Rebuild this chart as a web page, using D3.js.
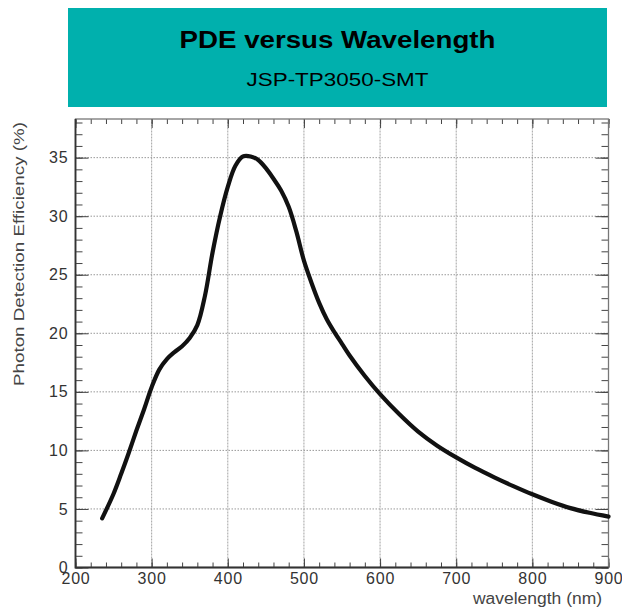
<!DOCTYPE html>
<html>
<head>
<meta charset="utf-8">
<title>PDE versus Wavelength</title>
<script src="https://cdn.jsdelivr.net/npm/d3@7"></script>
<style>
  body { margin: 0; background: #fff; }
  svg text { font-family: "Liberation Sans", Arial, sans-serif; }
  .tick line { stroke: #444; }
  .domain { display: none; }
</style>
</head>
<body>
<script>
// PDE curve (wavelength in nm, efficiency in %)
var wavelength = [235, 250, 260, 270, 280, 290, 300, 310, 320, 330, 340, 350, 360, 370, 380, 390,
                  400, 410, 420, 430, 440, 450, 460, 470, 480, 490, 500, 510, 520, 530, 540, 550,
                  560, 580, 600, 625, 650, 675, 700, 725, 750, 775, 800, 825, 850, 875, 900];
var pde = [4.2, 6.3, 8.0, 9.8, 11.7, 13.5, 15.4, 16.9, 17.8, 18.4, 18.9, 19.6, 20.7, 23.2, 26.9, 30.0,
           32.5, 34.3, 35.1, 35.1, 34.8, 34.1, 33.2, 32.2, 30.8, 28.7, 26.2, 24.3, 22.6, 21.2, 20.1, 19.1,
           18.1, 16.35, 14.8, 13.1, 11.6, 10.4, 9.4, 8.5, 7.7, 6.95, 6.25, 5.62, 5.07, 4.67, 4.35];
var xTicks = [200, 300, 400, 500, 600, 700, 800, 900];
var yTicks = [0, 5, 10, 15, 20, 25, 30, 35];
var titleText = "PDE versus Wavelength";
var subtitleText = "JSP-TP3050-SMT";
var xTitle = "wavelength (nm)";
var yTitle = "Photon Detection Efficiency (%)";

var W = 622, H = 610;
var pL = 75.5, pR = 608.5, pT = 119, pB = 567.5;

var svg = d3.select("body").append("svg")
    .attr("width", W).attr("height", H);

// header banner
svg.append("rect")
    .attr("x", 68).attr("y", 8).attr("width", 539).attr("height", 99)
    .attr("fill", "#00b0ad");
svg.append("text")
    .attr("x", 337.5).attr("y", 48)
    .attr("text-anchor", "middle")
    .attr("font-size", 23).attr("font-weight", "bold")
    .attr("textLength", 316).attr("lengthAdjust", "spacingAndGlyphs")
    .attr("fill", "#000")
    .text(titleText);
svg.append("text")
    .attr("x", 337.5).attr("y", 86)
    .attr("text-anchor", "middle")
    .attr("font-size", 19)
    .attr("textLength", 182).attr("lengthAdjust", "spacingAndGlyphs")
    .attr("fill", "#000")
    .text(subtitleText);

var x = d3.scaleLinear().domain([200, 900]).range([pL, pR]);
var y = d3.scaleLinear().domain([0, 38.3]).range([pB, pT]);

// grid
svg.append("g").selectAll("line")
    .data(xTicks.slice(1, -1)).enter().append("line")
    .attr("x1", function(d) { return x(d); }).attr("x2", function(d) { return x(d); })
    .attr("y1", pB).attr("y2", pT)
    .attr("stroke", "#999").attr("stroke-width", 0.9)
    .attr("stroke-dasharray", "2,1");
svg.append("g").selectAll("line")
    .data(yTicks.slice(1)).enter().append("line")
    .attr("x1", pL).attr("x2", pR)
    .attr("y1", function(d) { return y(d); }).attr("y2", function(d) { return y(d); })
    .attr("stroke", "#999").attr("stroke-width", 1)
    .attr("stroke-dasharray", "1.5,1.5");

// minor ticks
var xMinor = d3.range(200, 901, 20);
var yMinor = d3.range(0, 38.01, 1);
svg.append("g").attr("transform", "translate(0," + pB + ")")
    .call(d3.axisBottom(x).tickValues(xMinor).tickSize(-5).tickFormat(""));
svg.append("g").attr("transform", "translate(0," + pT + ")")
    .call(d3.axisTop(x).tickValues(xMinor).tickSize(-5).tickFormat(""));
svg.append("g").attr("transform", "translate(" + pL + ",0)")
    .call(d3.axisLeft(y).tickValues(yMinor).tickSize(-7).tickFormat(""));
svg.append("g").attr("transform", "translate(" + pR + ",0)")
    .call(d3.axisRight(y).tickValues(yMinor).tickSize(-7).tickFormat(""));

// major ticks + labels
var gx = svg.append("g").attr("transform", "translate(0," + pB + ")")
    .call(d3.axisBottom(x).tickValues(xTicks).tickSize(-9).tickPadding(5).tickFormat(d3.format("d")));
var gy = svg.append("g").attr("transform", "translate(" + pL + ",0)")
    .call(d3.axisLeft(y).tickValues(yTicks).tickSize(-13).tickPadding(7).tickFormat(d3.format("d")));
svg.append("g").attr("transform", "translate(0," + pT + ")")
    .call(d3.axisTop(x).tickValues(xTicks).tickSize(-9).tickFormat(""));
svg.append("g").attr("transform", "translate(" + pR + ",0)")
    .call(d3.axisRight(y).tickValues(yTicks).tickSize(-13).tickFormat(""));
[gx, gy].forEach(function(g) {
  g.selectAll("text")
    .attr("font-family", "Liberation Sans, Arial, sans-serif")
    .attr("font-size", 16).attr("letter-spacing", 0.8).attr("fill", "#333");
});

// frame
svg.append("rect")
    .attr("x", pL).attr("y", pT)
    .attr("width", pR - pL).attr("height", pB - pT)
    .attr("fill", "none").attr("stroke", "#777").attr("stroke-width", 1.3);
svg.append("path")
    .attr("d", "M" + pL + "," + pT + "V" + pB + "H" + pR)
    .attr("fill", "none").attr("stroke", "#333").attr("stroke-width", 1.8);

// curve
var line = d3.line()
    .x(function(d, i) { return x(wavelength[i]); })
    .y(function(d) { return y(d); })
    .curve(d3.curveCatmullRom.alpha(0.5));
svg.append("path")
    .datum(pde)
    .attr("d", line)
    .attr("fill", "none").attr("stroke", "#111").attr("stroke-width", 4.2)
    .attr("stroke-linecap", "round").attr("stroke-linejoin", "round");

// axis titles
svg.append("text")
    .attr("x", 602).attr("y", 604)
    .attr("text-anchor", "end").attr("font-size", 16).attr("fill", "#444")
    .attr("textLength", 129).attr("lengthAdjust", "spacingAndGlyphs")
    .text(xTitle);
svg.append("text")
    .attr("transform", "translate(24,122) rotate(-90)")
    .attr("text-anchor", "end").attr("font-size", 15).attr("fill", "#444")
    .attr("textLength", 264).attr("lengthAdjust", "spacingAndGlyphs")
    .text(yTitle);
</script>
</body>
</html>
